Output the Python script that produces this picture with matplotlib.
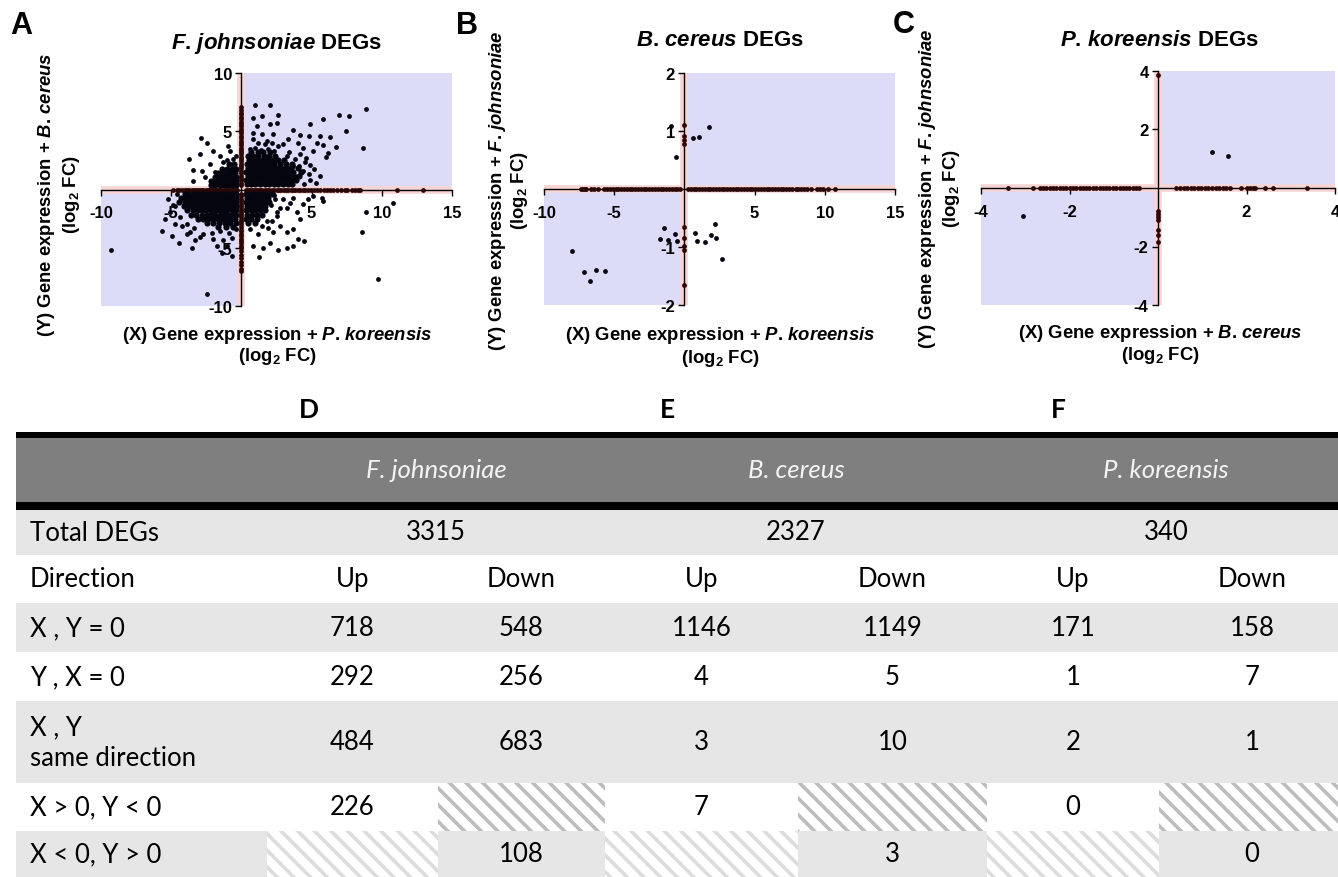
import matplotlib
matplotlib.use('Agg')
import matplotlib.pyplot as plt
from matplotlib.patches import Rectangle

# ---------------- data ----------------
# Panel A: F. johnsoniae DEGs (x: + P. koreensis, y: + B. cereus)
a_xaxis_x = [-4.85, -4.6, -4.45, -4.2, -4.05, -3.9, -3.7, -3.55, -3.4, -3.25, -3.1, -2.95,
             -2.8, -2.7, -2.55, -2.4, -2.3, -2.15, -2.0, -1.9, -1.75, -1.6, -1.5, -1.35, -1.2,
             -1.1, -0.95, -0.8, -0.7, -0.55, -0.4, -0.3, 0.3, 0.45, 0.6, 0.75, 0.9, 1.05, 1.2,
             1.35, 1.5, 1.7, 1.85, 2.0, 2.15, 2.3, 2.5, 2.65, 2.8, 3.0, 3.15, 3.3, 3.5, 3.65,
             3.85, 4.0, 4.2, 4.4, 4.55, 4.75, 4.95, 5.15, 5.35, 5.6, 5.85, 6.1, 6.3, 6.55, 6.8,
             7.1, 7.4, 7.55, 7.9, 8.1, 8.3, 8.45, 11.1, 12.9]
a_yaxis_y = [7.05, 6.85, 6.6, 6.45, 6.2, 6.05, 5.8, 5.6, 5.45, 5.2, 5.0, 4.85, 4.6, 4.45, 4.2,
             4.0, 3.85, 3.6, 3.4, 3.2, 3.05, 2.8, 2.6, 2.45, 2.2, 2.0, 1.85, 1.6, 1.4, 1.2, 1.0,
             0.8, 0.6, 0.4, -0.4, -0.6, -0.8, -1.0, -1.25, -1.4, -1.6, -1.85, -2.0, -2.2, -2.4,
             -2.65, -2.8, -3.0, -3.2, -3.45, -3.6, -3.8, -4.0, -4.25, -4.4, -4.6, -4.85, -5.0,
             -5.3, -5.6, -5.9, -6.2, -6.5, -6.8, -7.0]
a_pts = [
    # x > 0, y > 0
    (0.97, 7.24), (2.04, 7.24), (1.44, 6.32), (2.58, 6.38), (8.85, 6.9), (6.97, 6.41),
    (7.69, 6.32), (5.84, 6.04), (4.89, 5.58), (3.70, 5.15), (4.17, 4.69), (4.79, 4.61),
    (7.43, 5.04), (6.31, 4.52), (6.74, 3.66), (8.64, 3.55), (5.6, 4.55), (5.79, 3.83),
    (5.36, 4.03), (0.85, 6.18), (1.09, 5.46), (2.04, 5.61), (2.51, 5.75), (0.85, 4.89),
    (1.44, 4.75), (2.27, 4.75), (2.99, 3.89), (1.21, 4.03), (1.80, 4.18), (5.6, 1.17),
    (5.12, 3.32), (4.17, 3.03), (3.22, 2.89), (4.53, 2.32), (3.70, 2.03), (2.99, 1.75),
    (0.6, 3.5), (1.0, 3.6), (1.4, 3.4), (1.9, 3.5), (2.3, 3.3), (2.6, 3.7), (3.4, 3.2),
    (3.8, 2.6), (4.1, 2.0), (4.4, 1.6), (4.8, 1.3), (4.6, 2.7), (4.9, 2.1), (5.2, 1.8),
    (0.8, 4.3), (1.7, 3.9), (2.2, 4.0), (3.3, 4.3), (4.4, 3.6), (4.0, 4.0), (4.45, 0.5),
    (4.9, 0.8), (5.3, 0.55), (6.0, 2.8), (6.2, 3.1),
    # x < 0, y < 0
    (-9.29, -5.18), (-5.63, -3.55), (-4.94, -4.03), (-4.44, -4.55), (-3.52, -4.98),
    (-2.47, -8.98), (-1.76, -4.89), (-1.41, -5.41), (-0.65, -5.69), (-5.44, -2.55),
    (-5.09, -1.97), (-4.73, -1.40), (-4.25, -3.12), (-3.66, -3.69), (-2.95, -4.12),
    (-2.0, -4.26), (-1.05, -4.84), (-5.2, -0.83), (-4.4, -2.4), (-4.7, -3.0), (-4.9, -1.3),
    (-4.6, -0.4), (-0.7, -4.2), (-1.3, -4.3), (-3.3, -4.3), (-3.9, -3.8), (-0.4, -3.4),
    (-0.9, -3.7), (-1.5, -3.6), (-2.1, -3.7), (-2.7, -3.8), (-3.4, -3.3), (-3.9, -3.0),
    # x < 0, y > 0
    (-2.85, 4.46), (-2.47, 3.95), (-3.73, 2.66), (-0.93, 3.75), (-0.81, 3.32), (-2.0, 3.32),
    (-1.52, 2.89), (-2.95, 3.03), (-3.42, 1.69), (-2.83, 1.60), (-2.24, 2.17), (-3.42, 0.74),
    (-1.29, 2.32), (-0.57, 2.6), (-1.88, 1.46), (-0.35, 2.9), (-2.6, 1.1), (-1.0, 2.5),
    # x > 0, y < 0
    (9.75, -7.64), (8.61, -3.63), (10.77, -1.12), (8.85, -1.92), (5.72, -0.77), (5.84, -1.03),
    (3.70, -0.69), (3.46, -1.12), (3.22, -1.55), (3.94, -1.97), (4.17, -2.55), (3.70, -3.40),
    (3.22, -3.69), (4.06, -4.26), (4.46, -4.41), (3.70, -4.84), (3.27, -5.06), (2.63, -5.18),
    (2.04, -4.55), (1.56, -4.98), (1.28, -5.78), (0.85, -4.84), (0.61, -3.40), (1.21, -3.83),
    (2.27, -3.69), (2.75, -3.12), (1.80, -2.69), (2.51, -2.26), (2.99, -0.83), (2.75, -1.55),
    (4.41, -1.26), (4.77, -0.83), (5.12, -0.54), (2.2, -2.7), (1.5, -3.1), (1.9, -3.3),
    (2.5, -1.9), (2.4, -0.8), (2.1, -1.3), (2.3, -0.45),
]
# dense cores of panel A, one (y, [x, ...]) row per band
a_core_q1 = [(0.45, [0.4, 0.7, 1.0, 1.35, 1.65, 1.95, 2.3, 2.6, 2.95, 3.3, 3.6]),
             (0.8, [0.35, 0.65, 0.95, 1.3, 1.6, 1.9, 2.25, 2.55, 2.9, 3.25, 3.55, 3.9]),
             (1.15, [0.45, 0.75, 1.1, 1.4, 1.75, 2.05, 2.4, 2.7, 3.05, 3.4, 3.75, 4.1]),
             (1.5, [0.35, 0.7, 1.0, 1.3, 1.65, 1.95, 2.3, 2.65, 2.95, 3.3, 3.7, 4.25]),
             (1.85, [0.5, 0.8, 1.15, 1.45, 1.8, 2.1, 2.45, 2.8, 3.15, 3.55, 4.0]),
             (2.2, [0.4, 0.75, 1.05, 1.4, 1.7, 2.05, 2.35, 2.75, 3.2, 3.6]),
             (2.55, [0.55, 0.9, 1.25, 1.55, 1.9, 2.25, 2.6, 3.0]),
             (2.9, [0.45, 0.85, 1.2, 1.6, 2.0, 2.4]),
             (3.25, [0.7, 1.15, 1.55, 2.05])]
a_core_q2 = [(0.4, [-0.35, -0.65, -0.95, -1.25, -1.55, -1.85, -2.15]),
             (0.75, [-0.4, -0.7, -1.0, -1.3, -1.6, -1.9, -2.2]),
             (1.1, [-0.35, -0.65, -0.95, -1.25, -1.55, -1.85]),
             (1.45, [-0.45, -0.75, -1.05, -1.35, -1.7]),
             (1.8, [-0.4, -0.7, -1.05, -1.4]),
             (2.15, [-0.5, -0.85])]
a_core_q3 = [(-0.4, [-0.4, -0.7, -1.0, -1.3, -1.6, -1.9, -2.2, -2.5, -2.8, -3.1, -3.4, -3.7, -4.0]),
             (-0.75, [-0.35, -0.65, -0.95, -1.25, -1.55, -1.85, -2.15, -2.45, -2.75, -3.05,
                      -3.35, -3.65, -3.95, -4.3]),
             (-1.1, [-0.4, -0.7, -1.0, -1.3, -1.6, -1.9, -2.2, -2.5, -2.8, -3.1, -3.4, -3.7,
                     -4.05, -4.45]),
             (-1.45, [-0.35, -0.65, -0.95, -1.25, -1.55, -1.85, -2.15, -2.45, -2.75, -3.05,
                      -3.35, -3.7, -4.1]),
             (-1.8, [-0.4, -0.7, -1.0, -1.3, -1.6, -1.9, -2.2, -2.5, -2.8, -3.1, -3.45, -3.85]),
             (-2.15, [-0.35, -0.65, -0.95, -1.25, -1.55, -1.85, -2.15, -2.45, -2.8, -3.2, -3.6]),
             (-2.5, [-0.45, -0.75, -1.05, -1.35, -1.7, -2.0, -2.35, -2.7, -3.1]),
             (-2.85, [-0.4, -0.8, -1.2, -1.6, -2.0, -2.45]),
             (-3.2, [-0.6, -1.1, -1.7])]
a_core_q4 = [(-0.4, [0.35, 0.65, 0.95, 1.25, 1.55, 1.85, 2.15]),
             (-0.75, [0.4, 0.7, 1.0, 1.3, 1.6, 1.9]),
             (-1.1, [0.35, 0.65, 0.95, 1.25, 1.6, 1.95]),
             (-1.45, [0.4, 0.7, 1.0, 1.35, 1.7]),
             (-1.8, [0.35, 0.65, 0.95, 1.3, 1.7]),
             (-2.15, [0.4, 0.75, 1.1, 1.5]),
             (-2.5, [0.35, 0.7, 1.1]),
             (-2.85, [0.5, 0.95])]

# Panel B: B. cereus DEGs (x: + P. koreensis, y: + F. johnsoniae)
b_xaxis_x = [-7.34, -7.22, -7.1, -6.98, -6.63, -6.46, -6.15, -5.7, -5.5, -5.3, -5.1, -4.9, -4.7,
             -4.5, -4.3, -4.1, -3.9, -3.7, -3.5, -3.3, -3.1, -2.9, -2.7, -2.5, -2.3, -2.1, -1.9,
             -1.7, -1.5, -1.3, -1.1, -0.9, -0.7, -0.5, -0.3, 0.25, 0.45, 0.65, 0.85, 1.05, 1.25,
             1.45, 1.65, 1.85, 2.05, 2.25, 2.45, 2.65, 2.85, 3.05, 3.25, 3.45, 3.65, 3.85, 4.05,
             4.25, 4.45, 4.65, 4.85, 5.05, 5.25, 5.45, 5.65, 5.85, 6.05, 6.25, 6.45, 6.65, 6.85,
             7.05, 7.25, 7.45, 7.65, 7.95, 8.1, 8.3, 8.5, 8.75, 9.05, 9.45, 9.65, 9.85, 10.2, 10.72]
b_yaxis_y = [1.10, 0.92, 0.85, 0.78, -0.66, -0.85, -0.98, -1.05, -1.65]
b_pts = [(-0.57, 0.56), (-0.99, 1.09), (0.62, 0.88), (1.05, 0.90), (1.74, 1.07),
         (-1.44, -0.68), (-1.71, -0.87), (-1.16, -0.88), (-0.66, -0.78), (-0.54, -0.89),
         (0.74, -0.75), (0.91, -0.89), (1.50, -0.92), (1.91, -0.80), (2.21, -0.61),
         (2.24, -0.85), (2.67, -1.21), (-8.0, -1.07), (-7.12, -1.43), (-6.70, -1.59),
         (-6.29, -1.40), (-5.65, -1.41)]

# Panel C: P. koreensis DEGs (x: + B. cereus, y: + F. johnsoniae)
c_xaxis_x = [-3.38, -2.82, -2.67, -2.6, -2.52, -2.45, -2.37, -2.3, -2.22, -2.15, -2.07, -2.0,
             -1.92, -1.85, -1.77, -1.7, -1.62, -1.55, -1.47, -1.4, -1.32, -1.25, -1.17, -1.1,
             -1.02, -0.95, -0.87, -0.8, -0.72, -0.65, -0.57, -0.5, -0.42, 0.41, 0.5, 0.58, 0.66,
             0.74, 0.82, 0.9, 0.98, 1.06, 1.14, 1.22, 1.3, 1.38, 1.46, 1.54, 1.62, 1.88, 2.0,
             2.07, 2.15, 2.2, 2.41, 2.59, 3.37]
c_yaxis_y = [3.87, -0.78, -0.9, -1.0, -1.1, -1.45, -1.6, -1.85]
c_pts = [(1.23, 1.23), (1.58, 1.10), (-3.06, -0.95)]

# Tables D-F
species = ['F. johnsoniae', 'B. cereus', 'P. koreensis']
total_degs = [3315, 2327, 340]
row_labels = ['Total DEGs', 'Direction', 'X , Y = 0', 'Y , X = 0', 'X , Y\nsame direction',
              'X > 0, Y < 0', 'X < 0, Y > 0']
xy0_up = [718, 1146, 171]
xy0_down = [548, 1149, 158]
yx0_up = [292, 4, 1]
yx0_down = [256, 5, 7]
same_up = [484, 3, 2]
same_down = [683, 10, 1]
xpos_yneg_up = [226, 7, 0]
xneg_ypos_down = [108, 3, 0]

# ---------------- style ----------------
W, H = 1338, 878
plt.rcParams['axes.unicode_minus'] = False
plt.rcParams['mathtext.fontset'] = 'custom'
plt.rcParams['mathtext.rm'] = 'Liberation Sans:bold'
plt.rcParams['mathtext.bf'] = 'Liberation Sans:bold'
plt.rcParams['mathtext.it'] = 'Liberation Sans:italic:bold'
plt.rcParams['hatch.linewidth'] = 2.6

BLUE = '#DCDCF8'
PINK = '#F7D5D5'
SANS = 'Liberation Sans'
TAB = 'Lato'
DOT = 12

fig = plt.figure(figsize=(W / 100, H / 100), dpi=100)


def fx(px):
    return px / W


def fy(py):
    return 1 - py / H


def quad_panel(rect, xlim, ylim, xticks, yticks, pts, xaxis_x, yaxis_y):
    l, t, r, b = rect
    ax = fig.add_axes([fx(l), fy(b), (r - l) / W, (b - t) / H])
    ax.set_xlim(xlim)
    ax.set_ylim(ylim)
    ax.add_patch(Rectangle((0, 0), xlim[1], ylim[1], color=BLUE, lw=0, zorder=0))
    ax.add_patch(Rectangle((xlim[0], ylim[0]), -xlim[0], -ylim[0], color=BLUE, lw=0, zorder=0))
    ax.axhline(0, color=PINK, lw=5.5, zorder=0.5)
    ax.axvline(0, color=PINK, lw=5.5, zorder=0.5)
    for s in ['top', 'right']:
        ax.spines[s].set_visible(False)
    ax.spines['left'].set_position(('data', 0))
    ax.spines['bottom'].set_position(('data', 0))
    ax.spines['left'].set_linewidth(1)
    ax.spines['bottom'].set_linewidth(1)
    ax.set_xticks(xticks)
    ax.set_yticks(yticks)
    ax.set_xticklabels([str(v) for v in xticks])
    ax.set_yticklabels([str(v) for v in yticks])
    ax.tick_params(axis='x', direction='out', length=4.3, width=1, pad=7, labelsize=12)
    ax.tick_params(axis='y', direction='out', length=4.3, width=1, pad=2.5, labelsize=12)
    for lbl in ax.get_xticklabels() + ax.get_yticklabels():
        lbl.set_fontweight('bold')
        lbl.set_family(SANS)
    ax.scatter([p[0] for p in pts], [p[1] for p in pts], s=DOT, c='#050510', lw=0, zorder=3,
               clip_on=False)
    ax.scatter(xaxis_x, [0] * len(xaxis_x), s=DOT, c='#2a0808', lw=0, zorder=3, clip_on=False)
    ax.scatter([0] * len(yaxis_y), yaxis_y, s=DOT, c='#2a0808', lw=0, zorder=3, clip_on=False)
    ax.patch.set_alpha(0)
    return ax


ax_a = quad_panel((101, 74, 452, 307), (-10, 15), (-10, 10), [-10, -5, 5, 10, 15],
                  [-10, -5, 5, 10], a_pts, a_xaxis_x, a_yaxis_y)
for core in (a_core_q1, a_core_q2, a_core_q3, a_core_q4):
    cx = [x for y, xs in core for x in xs]
    cy = [y for y, xs in core for x in xs]
    ax_a.scatter(cx, cy, s=20, c='#050510', lw=0, zorder=3)

quad_panel((544, 74, 895, 306), (-10, 15), (-2, 2), [-10, -5, 5, 10, 15], [-2, -1, 1, 2],
           b_pts, b_xaxis_x, b_yaxis_y)
quad_panel((981, 72, 1335, 306), (-4, 4), (-4, 4), [-4, -2, 2, 4], [-4, -2, 2, 4],
           c_pts, c_xaxis_x, c_yaxis_y)

# panel texts (period kept outside mathtext to avoid its punctuation spacing)
kw = dict(family=SANS, fontweight='bold', ha='center', va='center')
panel_text = [
    ('A', 21, 26, r'$\mathit{F}$. $\mathit{johnsoniae}$ DEGs', 277, 44,
     r'(X) Gene expression + $\mathit{P}$. $\mathit{koreensis}$', 277, 335, 357,
     r'(Y) Gene expression + $\mathit{B}$. $\mathit{cereus}$', 47, 72, 195),
    ('B', 467, 26, r'$\mathit{B}$. $\mathit{cereus}$ DEGs', 720, 41,
     r'(X) Gene expression + $\mathit{P}$. $\mathit{koreensis}$', 720, 336, 359,
     r'(Y) Gene expression + $\mathit{F}$. $\mathit{johnsoniae}$', 497, 520, 191),
    ('C', 904, 25, r'$\mathit{P}$. $\mathit{koreensis}$ DEGs', 1159, 40,
     r'(X) Gene expression + $\mathit{B}$. $\mathit{cereus}$', 1160, 333, 356,
     r'(Y) Gene expression + $\mathit{F}$. $\mathit{johnsoniae}$', 927, 952, 189),
]
for (let, lx, ly, title, tx, ty, xl, xlx, xly1, xly2, yl, ylx1, ylx2, yly) in panel_text:
    fig.text(fx(lx), fy(ly), let, fontsize=22, **kw)
    fig.text(fx(tx), fy(ty), title, fontsize=16, **kw)
    fig.text(fx(xlx), fy(xly1), xl, fontsize=13.3, **kw)
    fig.text(fx(xlx), fy(xly2), r'(log$_{2}$ FC)', fontsize=13.3, **kw)
    fig.text(fx(ylx1), fy(yly), yl, fontsize=13.3, rotation=90, **kw)
    fig.text(fx(ylx2), fy(yly), r'(log$_{2}$ FC)', fontsize=13.3, rotation=90, **kw)

# ---------------- table ----------------
tax = fig.add_axes([0, 0, 1, 1], zorder=-1)
tax.set_xlim(0, W)
tax.set_ylim(H, 0)
tax.axis('off')

tl, tr = 15.7, 1345
cols = [267, 438, 605, 798, 987, 1159, 1345]
rows = [(511, 556), (556, 604), (604, 653), (653, 702), (702, 784), (784, 832), (832, 878)]
LIGHT = '#E6E6E6'

tax.add_patch(Rectangle((tl, 433), tr - tl, 6, color='black', lw=0))
tax.add_patch(Rectangle((tl, 439), tr - tl, 64, color='#7F7F7F', lw=0))
tax.add_patch(Rectangle((tl, 503), tr - tl, 8, color='black', lw=0))
for i, (top, bot) in enumerate(rows):
    bg = LIGHT if i % 2 == 0 else 'white'
    tax.add_patch(Rectangle((tl, top), tr - tl, bot - top, color=bg, lw=0))

tkw = dict(family=TAB, fontsize=18.5, va='center', color='black')
for lab, xp in zip(['D', 'E', 'F'], [309, 667, 1058]):
    tax.text(xp, 410, lab, family=TAB, fontsize=19, fontweight='bold', ha='center', va='center')
for k, sp in enumerate(species):
    cx = (cols[2 * k] + cols[2 * k + 2]) / 2
    tax.text(cx, 471, sp, family=TAB, fontsize=18.5, style='italic', color='#F4F4F4',
             ha='center', va='center')
    tax.text(cx, 533, str(total_degs[k]), ha='center', **tkw)

for i, lab in enumerate(row_labels):
    top, bot = rows[i]
    tax.text(30, (top + bot) / 2, lab, ha='left', linespacing=1.3, **tkw)

row_vals = [None, None, (xy0_up, xy0_down), (yx0_up, yx0_down), (same_up, same_down),
            (xpos_yneg_up, None), (None, xneg_ypos_down)]
for i, vals in enumerate(row_vals):
    top, bot = rows[i]
    cy = (top + bot) / 2
    for c in range(6):
        cx = (cols[c] + cols[c + 1]) / 2
        if i == 1:
            tax.text(cx, cy, 'Up' if c % 2 == 0 else 'Down', ha='center', **tkw)
            continue
        if vals is None:
            continue
        series = vals[c % 2]
        if series is None:
            hc = '#BDBDBD' if i % 2 == 1 else '#DCDCDC'
            tax.add_patch(Rectangle((cols[c], top), cols[c + 1] - cols[c], bot - top,
                                    facecolor='white', edgecolor=hc, hatch='\\\\', lw=0))
        else:
            tax.text(cx, cy, str(series[c // 2]), ha='center', **tkw)

fig.savefig('out.png', dpi=100)
